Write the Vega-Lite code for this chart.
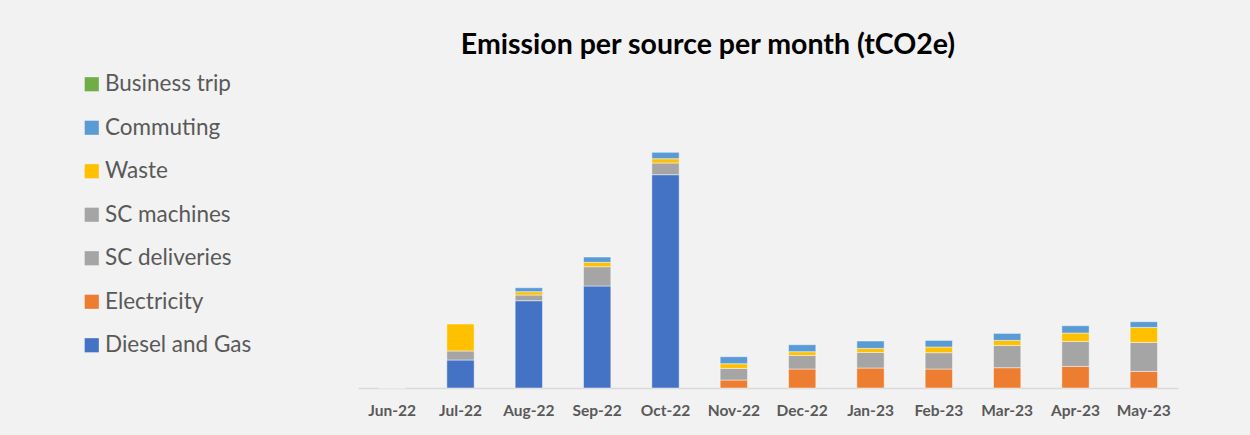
{
  "$schema": "https://vega.github.io/schema/vega-lite/v6.json",
  "autosize": "none",
  "width": 820,
  "height": 250,
  "padding": {"left": 358, "top": 138, "right": 72, "bottom": 47},
  "background": "#f2f2f2",
  "config": {"view": {"stroke": null}, "font": "Lato"},
  "title": {
    "text": "Emission per source per month (tCO2e)",
    "font": "Lato",
    "fontSize": 28.5,
    "fontWeight": "bold",
    "color": "#000000",
    "anchor": "middle",
    "frame": "group",
    "dx": -60,
    "offset": 14
  },
  "data": {
    "values": [
      {"month": "Jun-22", "source": "Diesel and Gas", "ord": 1, "value": 0},
      {"month": "Jul-22", "source": "Diesel and Gas", "ord": 1, "value": 28},
      {"month": "Jul-22", "source": "SC deliveries", "ord": 3, "value": 9},
      {"month": "Jul-22", "source": "Waste", "ord": 5, "value": 27},
      {"month": "Aug-22", "source": "Diesel and Gas", "ord": 1, "value": 87.3},
      {"month": "Aug-22", "source": "SC deliveries", "ord": 3, "value": 5.7},
      {"month": "Aug-22", "source": "Waste", "ord": 5, "value": 3.3},
      {"month": "Aug-22", "source": "Commuting", "ord": 6, "value": 4},
      {"month": "Sep-22", "source": "Diesel and Gas", "ord": 1, "value": 102},
      {"month": "Sep-22", "source": "SC deliveries", "ord": 3, "value": 19.3},
      {"month": "Sep-22", "source": "Waste", "ord": 5, "value": 4.4},
      {"month": "Sep-22", "source": "Commuting", "ord": 6, "value": 5.3},
      {"month": "Oct-22", "source": "Diesel and Gas", "ord": 1, "value": 213.3},
      {"month": "Oct-22", "source": "SC deliveries", "ord": 3, "value": 11.7},
      {"month": "Oct-22", "source": "Waste", "ord": 5, "value": 4.3},
      {"month": "Oct-22", "source": "Commuting", "ord": 6, "value": 6.4},
      {"month": "Nov-22", "source": "Electricity", "ord": 2, "value": 8},
      {"month": "Nov-22", "source": "SC deliveries", "ord": 3, "value": 11.6},
      {"month": "Nov-22", "source": "Waste", "ord": 5, "value": 4.7},
      {"month": "Nov-22", "source": "Commuting", "ord": 6, "value": 7},
      {"month": "Dec-22", "source": "Electricity", "ord": 2, "value": 19},
      {"month": "Dec-22", "source": "SC deliveries", "ord": 3, "value": 13.6},
      {"month": "Dec-22", "source": "Waste", "ord": 5, "value": 3.7},
      {"month": "Dec-22", "source": "Commuting", "ord": 6, "value": 7},
      {"month": "Jan-23", "source": "Electricity", "ord": 2, "value": 20},
      {"month": "Jan-23", "source": "SC deliveries", "ord": 3, "value": 15.6},
      {"month": "Jan-23", "source": "Waste", "ord": 5, "value": 4},
      {"month": "Jan-23", "source": "Commuting", "ord": 6, "value": 7.4},
      {"month": "Feb-23", "source": "Electricity", "ord": 2, "value": 19},
      {"month": "Feb-23", "source": "SC deliveries", "ord": 3, "value": 16.3},
      {"month": "Feb-23", "source": "Waste", "ord": 5, "value": 5.7},
      {"month": "Feb-23", "source": "Commuting", "ord": 6, "value": 6.6},
      {"month": "Mar-23", "source": "Electricity", "ord": 2, "value": 20.3},
      {"month": "Mar-23", "source": "SC deliveries", "ord": 3, "value": 22.3},
      {"month": "Mar-23", "source": "Waste", "ord": 5, "value": 5},
      {"month": "Mar-23", "source": "Commuting", "ord": 6, "value": 7},
      {"month": "Apr-23", "source": "Electricity", "ord": 2, "value": 21.6},
      {"month": "Apr-23", "source": "SC deliveries", "ord": 3, "value": 25},
      {"month": "Apr-23", "source": "Waste", "ord": 5, "value": 8.4},
      {"month": "Apr-23", "source": "Commuting", "ord": 6, "value": 7.3},
      {"month": "May-23", "source": "Electricity", "ord": 2, "value": 16.6},
      {"month": "May-23", "source": "SC deliveries", "ord": 3, "value": 29},
      {"month": "May-23", "source": "Waste", "ord": 5, "value": 15},
      {"month": "May-23", "source": "Commuting", "ord": 6, "value": 5.7}
    ]
  },
  "mark": {"type": "bar", "stroke": "#ffffff", "strokeOpacity": 0.45, "strokeWidth": 1},
  "encoding": {
    "x": {
      "field": "month",
      "type": "ordinal",
      "sort": null,
      "scale": {"paddingInner": 0.6, "paddingOuter": 0.3},
      "axis": {
        "title": null,
        "labelAngle": 0,
        "ticks": false,
        "domainColor": "#d9d9d9",
        "domainWidth": 1.5,
        "labelFont": "Lato",
        "labelFontSize": 15.5,
        "labelFontWeight": "bold",
        "labelColor": "#595959",
        "labelPadding": 15
      }
    },
    "y": {
      "field": "value",
      "type": "quantitative",
      "stack": "zero",
      "scale": {"domain": [0, 250], "nice": false},
      "axis": null
    },
    "order": {"field": "ord", "type": "quantitative", "sort": "ascending"},
    "color": {
      "field": "source",
      "type": "nominal",
      "scale": {
        "domain": ["Business trip", "Commuting", "Waste", "SC machines", "SC deliveries", "Electricity", "Diesel and Gas"],
        "range": ["#70ad47", "#5b9bd5", "#ffc000", "#a5a5a5", "#a5a5a5", "#ed7d31", "#4472c4"]
      },
      "legend": {
        "title": null,
        "orient": "none",
        "legendX": -277.5,
        "legendY": -65,
        "symbolType": "square",
        "symbolSize": 200,
        "symbolStrokeWidth": 0,
        "symbolOpacity": 1,
        "labelFont": "Lato",
        "labelFontSize": 22.5,
        "labelColor": "#595959",
        "labelOffset": 2,
        "rowPadding": 20.5,
        "labelLimit": 300
      }
    }
  }
}
